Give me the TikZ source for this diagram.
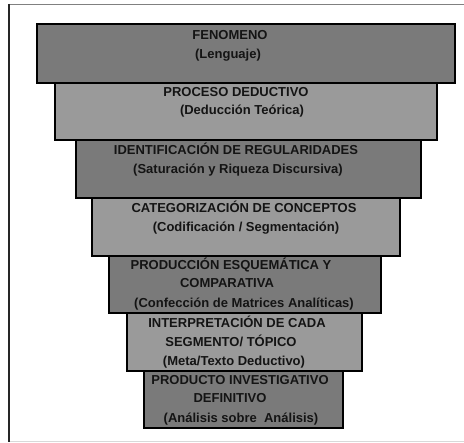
\documentclass[tikz,border=0pt]{standalone}
\usepackage{fontspec}
\setmainfont{Liberation Sans}
\definecolor{darkbox}{HTML}{7A7A7A}
\definecolor{lightbox}{HTML}{9A9A9A}
\definecolor{txt}{HTML}{141414}
\begin{document}
\begin{tikzpicture}[x=1pt,y=-1pt,
  box/.style={draw=black,line width=1.8pt,rectangle,inner sep=0pt,outer sep=0pt},
  dk/.style={box,fill=darkbox},
  lt/.style={box,fill=lightbox},
  lbl/.style={anchor=base,inner sep=0pt,text=txt,font=\fontsize{13}{15}\selectfont\bfseries}]
\useasboundingbox (0,0) rectangle (464,443);
\fill[white] (0,0) rectangle (464,443);
% frame
\coordinate (ftl) at (9,4);
\coordinate (ftr) at (464,4);
\coordinate (fbl) at (9,442);
\coordinate (fbr) at (464,442);
\draw[gray,line width=0.8pt] (ftl) -- (ftr);
\draw[black!15,line width=1pt] (fbl) -- (fbr);
\draw[black!85,line width=1.2pt] (ftl) -- (fbl);
% boxes
\node[dk,minimum width=418,minimum height=59] (b1) at (246,53.5) {};
\node[lt,minimum width=382,minimum height=57] (b2) at (246,111.5) {};
\node[dk,minimum width=345,minimum height=58] (b3) at (248.5,169) {};
\node[lt,minimum width=308,minimum height=58] (b4) at (246,227) {};
\node[dk,minimum width=272,minimum height=57] (b5) at (245,284.5) {};
\node[lt,minimum width=235,minimum height=58] (b6) at (244.5,342) {};
\node[dk,minimum width=199,minimum height=57] (b7) at (243.5,399.5) {};
% texts
\node[lbl] (t11) at (230,40) {FENOMENO};
\node[lbl] (t12) at (228,59) {(Lenguaje)};
\node[lbl] (t21) at (236,97) {PROCESO DEDUCTIVO};
\node[lbl] (t22) at (242,115) {(Deducción Teórica)};
\node[lbl] (t31) at (236,155) {IDENTIFICACIÓN DE REGULARIDADES};
\node[lbl] (t32) at (238,174) {(Saturación y Riqueza Discursiva)};
\node[lbl] (t41) at (244,213) {CATEGORIZACIÓN DE CONCEPTOS};
\node[lbl] (t42) at (246,232) {(Codificación / Segmentación)};
\node[lbl] (t51) at (231,270) {PRODUCCIÓN ESQUEMÁTICA Y};
\node[lbl] (t52) at (227,288) {COMPARATIVA};
\node[lbl] (t53) at (244,308) {(Confección de Matrices Analíticas)};
\node[lbl] (t61) at (237,328) {INTERPRETACIÓN DE CADA};
\node[lbl] (t62) at (231,347) {SEGMENTO/ TÓPICO};
\node[lbl] (t63) at (234,366) {(Meta/Texto Deductivo)};
\node[lbl] (t71) at (240,385) {PRODUCTO INVESTIGATIVO};
\node[lbl] (t72) at (230,403) {DEFINITIVO};
\node[lbl] (t73) at (241,423) {(Análisis sobre~~Análisis)};
\end{tikzpicture}
\end{document}
